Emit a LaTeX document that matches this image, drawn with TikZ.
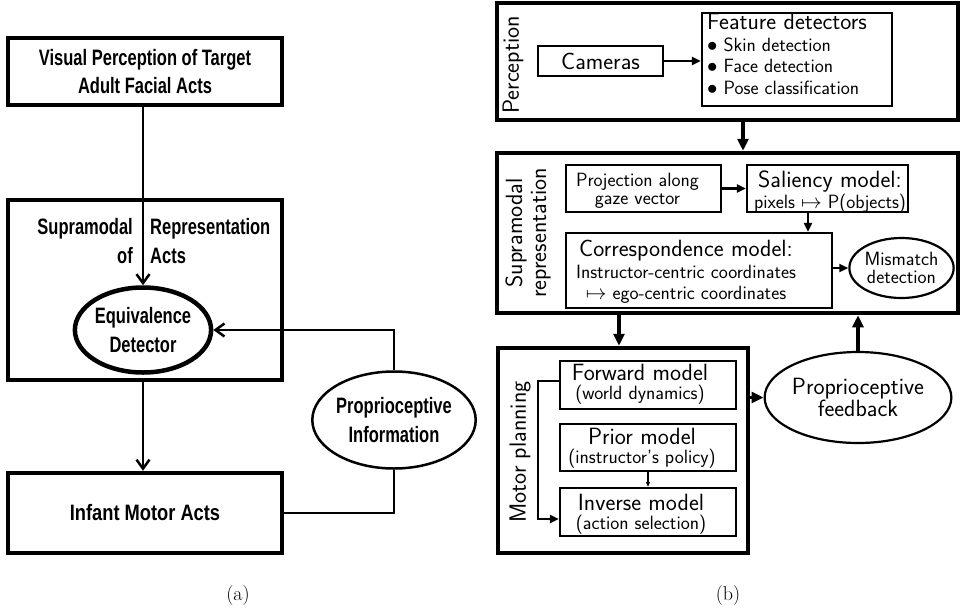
\documentclass[tikz,border=0pt]{standalone}
\usepackage{fontspec}
\usetikzlibrary{arrows.meta,shapes.geometric}
\newfontfamily\condfont{Liberation Sans}[FakeStretch=0.74]
\newfontfamily\condwide{Liberation Sans}[FakeStretch=0.82]
\newcommand\fsL{\fontsize{23.5}{20}\selectfont}
\newcommand\fsS{\fontsize{19.2}{18.5}\selectfont}
\begin{document}
\setlength{\lineskiplimit}{-50pt}
\begin{tikzpicture}[x=1pt,y=-1pt,
  abox/.style={draw, line width=4.5pt, rectangle, inner sep=0pt},
  aarr/.style={line width=2.5pt, -{Straight Barb[length=9pt,width=13pt]}},
  afont/.style={font=\condfont\bfseries\fontsize{22.3}{28.5}\selectfont},
  bbig/.style={draw, line width=4.5pt, inner sep=0pt},
  bin/.style={draw, line width=2.2pt, inner sep=0pt},
  barrT/.style={line width=3.5pt, -{Triangle[length=12pt,width=11pt]}},
  barr/.style={line width=2.2pt, -{Triangle[length=9pt,width=8pt]}},
  btxt/.style={font=\sffamily\fsS, align=center, inner sep=0pt},
  blbl/.style={font=\sffamily\fontsize{23.5}{24}\selectfont, align=center, inner sep=0pt, rotate=90},
  captext/.style={font=\rmfamily\fontsize{20}{22}\selectfont, inner sep=0pt}]
\useasboundingbox (0,0) rectangle (961,611);

% ---------------- (a) ----------------
\node[abox, minimum width=274pt, minimum height=67pt, afont, align=center] (vis) at (145,71.5) {Visual Perception of Target\\Adult Facial Acts};
\node[abox, minimum width=274pt, minimum height=180pt] (repA) at (145,290) {};
\node[draw, ellipse, line width=4.5pt, minimum width=131pt, minimum height=85pt, inner sep=0pt, afont, align=center] (eq) at (143,330) {Equivalence\\Detector};
\node[afont, align=right, anchor=east, inner sep=0pt] (repAL) at (133,241) {Supramodal\\of};
\node[afont, align=left, anchor=west, inner sep=0pt] (repAR) at (150,241) {Representation\\Acts};
\node[abox, minimum width=274pt, minimum height=80pt, font=\condwide\bfseries\fontsize{22.3}{28}\selectfont] (inf) at (145,513) {Infant Motor Acts};
\node[draw, ellipse, line width=2.5pt, minimum width=152pt, minimum height=97pt, inner sep=0pt, afont, align=center] (prop) at (394,420) {Proprioceptive\\Information};
\draw[aarr] (eq.north |- vis.south) -- (eq.north);
\draw[aarr] (eq.south |- repA.south) -- (eq.south |- inf.north);
\draw[line width=2.5pt] (inf.east) -| (prop.south);
\draw[aarr] (prop.north) |- (eq.east);
\node[captext] (capA) at (238,595) {(a)};

% ---------------- (b) ----------------
% Perception
\node[bbig, minimum width=461pt, minimum height=117pt] (per) at (727.5,61.5) {};
\node[blbl] (perL) at (513,65) {Perception};
\node[bin, minimum width=125pt, minimum height=30pt, font=\sffamily\fsL] (cam) at (600.5,61) {Cameras};
\node[bin, minimum width=190pt, minimum height=93pt] (feat) at (797,59.5) {};
\node[btxt, font=\sffamily\fontsize{19.2}{21.5}\selectfont, align=left, anchor=north west] (featT) at (707,13) {{\fsL Feature detectors}\\$\bullet$ Skin detection\\$\bullet$ Face detection\\$\bullet$ Pose classification};
\draw[barr] (cam.east) -- (cam.east -| feat.west);

% Supramodal representation
\node[bbig, minimum width=461pt, minimum height=160pt] (repB) at (727.5,233) {};
\node[blbl] (repBL) at (528,233) {Supramodal\\representation};
\node[bin, minimum width=155pt, minimum height=47pt] (proj) at (643.5,188.5) {};
\node[btxt] (projT) at (637.5,191) {Projection along\\gaze vector};
\node[bin, minimum width=161pt, minimum height=47pt] (sal) at (827.5,188.5) {};
\node[btxt, font=\sffamily\fontsize{19.2}{21}\selectfont] (salT) at (830,192) {{\fsL Saliency model:}\\pixels $\mapsto$ P(objects)};
\node[bin, minimum width=266pt, minimum height=75pt] (corr) at (699,270.5) {};
\node[btxt, font=\sffamily\fontsize{19.2}{21.5}\selectfont] (corrT) at (686,272) {{\fsL Correspondence model:}\\Instructor-centric coordinates\\$\mapsto$ ego-centric coordinates};
\node[draw, ellipse, line width=2.2pt, minimum width=103pt, minimum height=60pt, inner sep=0pt, font=\sffamily\fontsize{19.2}{17.5}\selectfont, align=center] (mis) at (901.5,268) {Mismatch\\detection};
\draw[barr] (proj.east) -- (sal.west);
\coordinate (sa) at (808,0);
\draw[barr] (sa |- sal.south) -- (sa |- corr.north);
\draw[barr] (corr.east |- mis.west) -- (mis.west);
\coordinate (pa) at (743,0);
\draw[barrT] (pa |- per.south) -- (pa |- repB.north);

% Motor planning
\node[bbig, minimum width=250pt, minimum height=205pt] (mot) at (623,450.5) {};
\node[blbl] (motL) at (520,452) {Motor planning};
\node[bin, minimum width=176pt, minimum height=48pt] (fwd) at (648,385) {};
\node[btxt, font=\sffamily\fontsize{19.2}{18.5}\selectfont] (fwdT) at (640,384) {{\fsL Forward model}\\(world dynamics)};
\node[bin, minimum width=176pt, minimum height=47pt] (pri) at (648,447.5) {};
\node[btxt, font=\sffamily\fontsize{19.2}{18.5}\selectfont] (priT) at (642,448) {{\fsL Prior model}\\(instructor's policy)};
\node[bin, minimum width=176pt, minimum height=48pt] (inv) at (648,512) {};
\node[btxt, font=\sffamily\fontsize{19.2}{18.5}\selectfont] (invT) at (641,514) {{\fsL Inverse model}\\(action selection)};
\draw[line width=1.2pt, -{Triangle[length=5pt,width=4pt]}] (pri.south) -- (inv.north);
\draw[barr] ([yshift=4pt]fwd.west) -- ++(-21,0) |- ([yshift=-7pt]inv.west);

\node[draw, ellipse, line width=2.2pt, minimum width=160pt, minimum height=91pt, inner sep=0pt, font=\sffamily\fontsize{23.5}{21.5}\selectfont, align=center] (pf) at (858,397.5) {Proprioceptive\\feedback};

\coordinate (ma) at (619,0);
\draw[barrT] (ma |- repB.south) -- (ma |- mot.north);
\draw[barrT] (pf.north) -- (pf.north |- repB.south);
\draw[barrT] (mot.east |- pf.west) -- (pf.west);
\node[captext] (capB) at (728,595) {(b)};
\end{tikzpicture}
\end{document}
